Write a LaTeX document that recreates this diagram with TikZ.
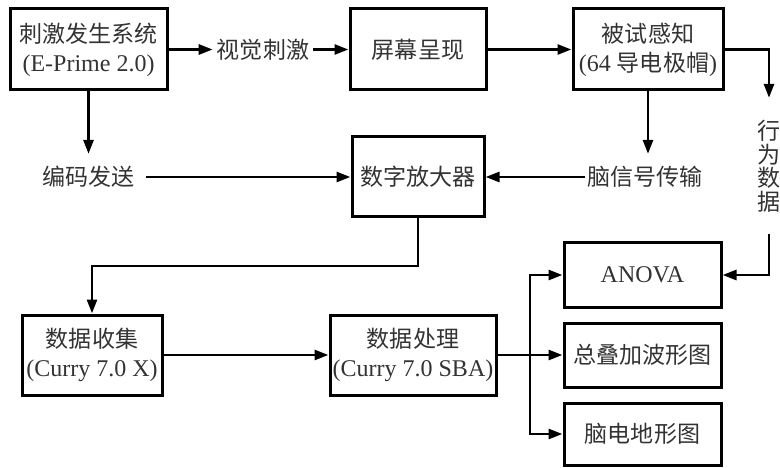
\documentclass[tikz,border=0pt]{standalone}
\usepackage{fontspec}
\setmainfont{Liberation Serif}
\newfontfamily\cjk[Scale=0.96]{Noto Sans CJK SC}
\usetikzlibrary{arrows.meta}
\newcommand\zh[1]{{\cjk #1}}
\begin{document}
\begin{tikzpicture}[x=1pt,y=-1pt,
  box/.style={draw=black, line width=3pt, inner sep=0pt, align=center, text=black!80, font=\fontsize{24}{29}\selectfont},
  lbl/.style={inner ysep=0pt, inner xsep=3pt, align=center, text=black!80, font=\fontsize{24}{29}\selectfont},
  conn/.style={line width=2.8pt, -{Triangle[length=14pt,width=10pt]}},
  plain/.style={line width=2.8pt}]
\useasboundingbox (0,0) rectangle (780,468);
% top row
\node[box, minimum width=157pt, minimum height=81pt] (b1) at (88.5,49.5) {\zh{刺激发生系统}\\(E-Prime 2.0)};
\node[lbl, inner xsep=4pt] (vis) at (263,49.5) {\zh{视觉刺激}};
\node[box, minimum width=136pt, minimum height=81pt] (b2) at (418,49.5) {\zh{屏幕呈现}};
\node[box, minimum width=150pt, minimum height=81pt] (b3) at (648,49.5) {\zh{被试感知}\\(64 \zh{导电极帽})};
% middle row
\node[lbl, inner xsep=11pt, minimum height=46pt] (enc) at (88.5,177) {\zh{编码发送}};
\node[box, minimum width=132pt, minimum height=80pt] (b4) at (418,177) {\zh{数字放大器}};
\node[lbl, inner xsep=2pt, minimum height=46pt] (sig) at (645,177) {\zh{脑信号传输}};
\node[lbl, inner xsep=0pt, minimum height=136pt, font=\fontsize{24}{23.5}\selectfont] (beh) at (769,166) {\zh{行}\\\zh{为}\\\zh{数}\\\zh{据}};
% bottom row
\node[box, minimum width=140pt, minimum height=80pt] (b5) at (92,355) {\zh{数据收集}\\(Curry 7.0 X)};
\node[box, minimum width=166pt, minimum height=80pt] (b6) at (413,355) {\zh{数据处理}\\(Curry 7.0 SBA)};
\node[box, minimum width=157pt, minimum height=64pt] (b7) at (642.5,275) {ANOVA};
\node[box, minimum width=157pt, minimum height=64pt] (b8) at (642.5,355) {\zh{总叠加波形图}};
\node[box, minimum width=157pt, minimum height=62pt] (b9) at (642.5,434) {\zh{脑电地形图}};
\coordinate (k) at (250,266);
\coordinate (br) at (530,355);
% connectors
\draw[conn] (b1.east) -- (vis.west);
\draw[conn] (vis.east) -- (b2.west);
\draw[conn] (b2.east) -- (b3.west);
\draw[conn] (b3.east) -| (beh.north);
\draw[conn] (b1.south) -- (enc.north);
\draw[conn] (b3.south) -- (b3.south |- sig.north);
\draw[conn] (enc.east) -- (b4.west);
\draw[conn] (sig.west) -- (b4.east);
\draw[conn] (b4.south) |- (k) -| (b5.north);
\draw[conn] (beh.south) |- (b7.east);
\draw[conn] (b5.east) -- (b6.west);
\draw[plain] (b6.east) -- (br);
\draw[conn] (br) -- (b8.west);
\draw[conn] (br) |- (b7.west);
\draw[conn] (br) |- (b9.west);
\end{tikzpicture}
\end{document}
